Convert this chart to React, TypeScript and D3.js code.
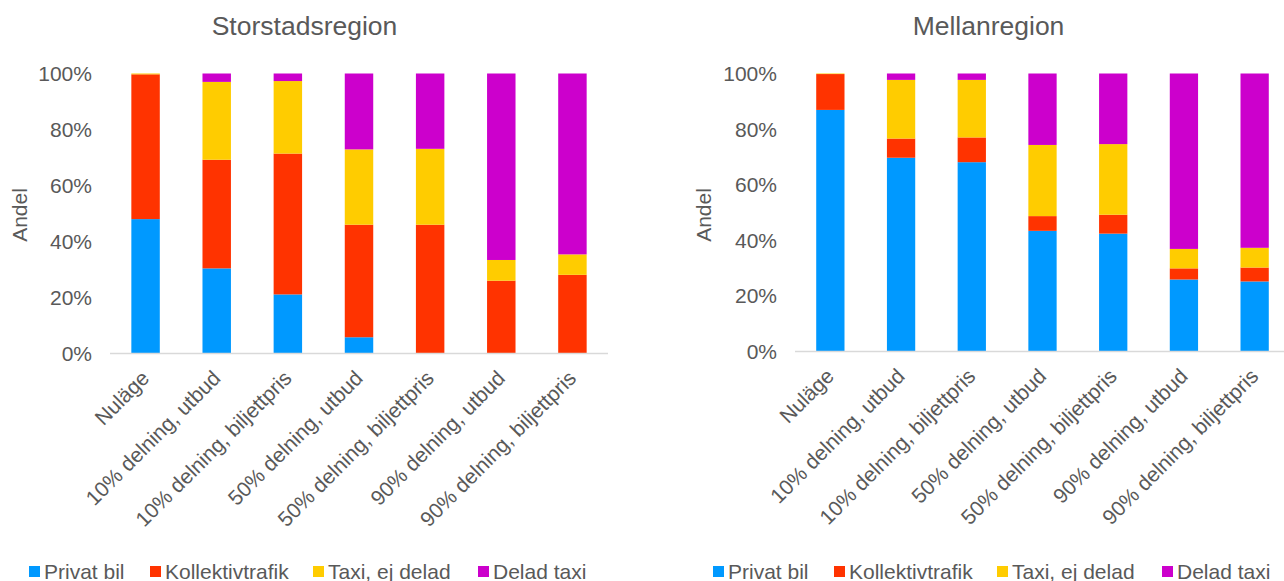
import React from "react";
import * as d3 from "d3";

const categories = [
  "Nuläge",
  "10% delning, utbud",
  "10% delning, biljettpris",
  "50% delning, utbud",
  "50% delning, biljettpris",
  "90% delning, utbud",
  "90% delning, biljettpris",
];
const seriesNames = ["Privat bil", "Kollektivtrafik", "Taxi, ej delad", "Delad taxi"];
const seriesColors = ["#0099FF", "#FF3300", "#FFCC00", "#CC00CC"];
const yTicks = [0, 20, 40, 60, 80, 100];

// Storstadsregion
const storPrivatBil = [48.0, 30.4, 21.1, 5.8, 0, 0, 0];
const storKollektiv = [51.7, 38.8, 50.3, 40.2, 46.0, 26.0, 28.1];
const storTaxi = [0.3, 27.8, 25.9, 26.9, 27.1, 7.4, 7.3];
const storDelad = [0, 3.0, 2.7, 27.1, 26.9, 66.6, 64.6];

// Mellanregion
const mellanPrivatBil = [86.9, 69.7, 68.1, 43.4, 42.4, 25.9, 25.2];
const mellanKollektiv = [12.9, 6.9, 8.9, 5.3, 6.8, 4.0, 5.0];
const mellanTaxi = [0.2, 21.1, 20.7, 25.6, 25.4, 7.0, 7.1];
const mellanDelad = [0, 2.3, 2.3, 25.7, 25.4, 63.1, 62.7];

const FONT = "'Liberation Sans', Arial, sans-serif";
const TEXT = "#595959";

type ChartProps = {
  title: string;
  series: number[][];
  ox: number;
  plotLeft: number;
  plotRight: number;
  y0: number;
  y100: number;
  titleX: number;
};

function Chart({ title, series, ox, plotLeft, plotRight, y0, y100, titleX }: ChartProps) {
  const x = d3
    .scaleBand<string>()
    .domain(categories)
    .range([ox + plotLeft, ox + plotRight])
    .paddingInner(0.6)
    .paddingOuter(0.3);
  const y = d3.scaleLinear().domain([0, 100]).range([y0, y100]);

  const rows = categories.map((c, i) => {
    const r: any = { cat: c };
    seriesNames.forEach((s, k) => (r[s] = series[k][i]));
    return r;
  });
  const stacked = d3.stack<any>().keys(seriesNames)(rows);

  const legendX = [29, 150, 313, 478];

  return (
    <g fontFamily={FONT} fill={TEXT}>
      <text x={ox + titleX} y={35} fontSize={26.5} textAnchor="middle" fill={TEXT}>
        {title}
      </text>
      <text
        transform={`translate(${ox + 27},215) rotate(-90)`}
        fontSize={21}
        textAnchor="middle"
        fill={TEXT}
      >
        Andel
      </text>
      {yTicks.map((t) => (
        <text
          key={t}
          x={ox + plotLeft - 18}
          y={y(t)}
          dy="0.36em"
          fontSize={21}
          textAnchor="end"
          fill={TEXT}
        >
          {t}%
        </text>
      ))}
      {stacked.map((layer, k) => (
        <g key={layer.key} fill={seriesColors[k]}>
          {layer.map((d, i) =>
            d[1] - d[0] > 0 ? (
              <rect
                key={i}
                x={x(categories[i])!}
                width={x.bandwidth()}
                y={y(d[1])}
                height={y(d[0]) - y(d[1])}
              />
            ) : null
          )}
        </g>
      ))}
      <line
        x1={ox + plotLeft}
        x2={ox + plotRight}
        y1={y0}
        y2={y0}
        stroke="#D9D9D9"
        strokeWidth={1.5}
      />
      {categories.map((c) => {
        const cx = x(c)! + x.bandwidth() / 2;
        return (
          <text
            key={c}
            transform={`translate(${cx + 5},${y0 + 26}) rotate(-45)`}
            fontSize={21}
            textAnchor="end"
            fill={TEXT}
          >
            {c}
          </text>
        );
      })}
      {seriesNames.map((s, k) => (
        <g key={s}>
          <rect x={ox + legendX[k]} y={566} width={11} height={11} fill={seriesColors[k]} />
          <text x={ox + legendX[k] + 15} y={578.5} fontSize={21} fill={TEXT}>
            {s}
          </text>
        </g>
      ))}
    </g>
  );
}

export default function App() {
  return (
    <svg
      width={1284}
      height={581}
      style={{ position: "absolute", left: 0, top: 0, display: "block", background: "#fff" }}
    >
      <rect width={1284} height={581} fill="#fff" />
      <Chart
        title="Storstadsregion"
        series={[storPrivatBil, storKollektiv, storTaxi, storDelad]}
        ox={0}
        plotLeft={110}
        plotRight={608}
        y0={353.5}
        y100={73.5}
        titleX={304.5}
      />
      <Chart
        title="Mellanregion"
        series={[mellanPrivatBil, mellanKollektiv, mellanTaxi, mellanDelad]}
        ox={684}
        plotLeft={111}
        plotRight={606}
        y0={351.5}
        y100={73.5}
        titleX={304.5}
      />
    </svg>
  );
}
